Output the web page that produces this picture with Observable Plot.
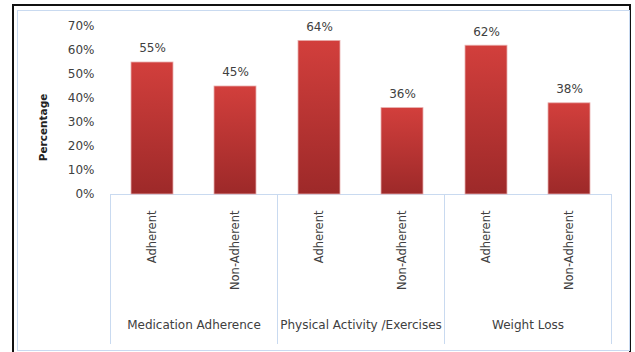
<!DOCTYPE html>
<html>
<head>
<meta charset="utf-8">
<script src="https://cdn.jsdelivr.net/npm/d3@7"></script>
<script src="https://cdn.jsdelivr.net/npm/@observablehq/plot@0.6"></script>
<style>
  html, body { margin: 0; padding: 0; background: #fff; }
  #wrap { position: relative; width: 635px; height: 352px; overflow: hidden; }
  #outer { position: absolute; left: 12px; top: 4px; width: 619px; height: 360px; border: 2px solid #111; box-sizing: border-box; }
  #inner { position: absolute; left: 17px; top: 10px; width: 613px; height: 341px; border: 1px solid #c9daf0; box-sizing: border-box; }
  #chart { position: absolute; left: 0; top: 0; }
  #chart svg { background: transparent !important; }
</style>
</head>
<body>
<div id="wrap">
  <div id="outer"></div>
  <div id="inner"></div>
  <div id="chart"></div>
</div>
<script>
const groups = ["Medication Adherence", "Physical Activity /Exercises", "Weight Loss"];
const statuses = ["Adherent", "Non-Adherent"];
const values = [0.55, 0.45, 0.64, 0.36, 0.62, 0.38];
const yTicks = [0, 0.1, 0.2, 0.3, 0.4, 0.5, 0.6, 0.7];
const yTitle = "Percentage";

const data = values.map((v, i) => ({
  group: groups[Math.floor(i / 2)],
  status: statuses[i % 2],
  value: v
}));

const font = "DejaVu Sans, sans-serif";
const textColor = "#404040";
const gridBlue = "#c9daf0";

const chart = Plot.plot({
  width: 635,
  height: 352,
  marginLeft: 110,
  marginRight: 24,
  marginTop: 26,
  marginBottom: 158,
  style: { fontFamily: font, fontSize: "12px", color: textColor, background: "transparent" },
  fx: { domain: groups, padding: 0 },
  x: { domain: statuses, paddingInner: 0.5, paddingOuter: 0.25 },
  y: { domain: [0, 0.7] },
  marks: [
    Plot.frame({ anchor: "left", stroke: gridBlue, insetTop: 168, insetBottom: -149 }),
    Plot.frame({ anchor: "right", stroke: gridBlue, insetTop: 168, insetBottom: -149 }),
    Plot.ruleY([0], { stroke: gridBlue }),
    Plot.barY(data, {
      fx: "group", x: "status", y: "value",
      fill: "url(#barGrad)", stroke: "#e8b0ae", strokeWidth: 0.8
    }),
    Plot.text(data, {
      fx: "group", x: "status", y: "value",
      text: d => Math.round(d.value * 100) + "%",
      dy: -14, fontSize: 12, fill: textColor
    }),
    Plot.axisY({
      ticks: yTicks, tickFormat: d3.format(".0%"), tickSize: 0, tickPadding: 16,
      label: null, fontSize: 12, fill: textColor
    }),
    Plot.text([yTitle], {
      fx: () => groups[0],
      text: d => d, frameAnchor: "left", textAnchor: "middle", rotate: -90,
      dx: -67, dy: 17, fontSize: 10.5, fontWeight: "bold", fill: "#222"
    }),
    Plot.axisX({
      tickRotate: -90, tickSize: 0, tickPadding: 16, label: null,
      fontSize: 11.5, fill: textColor
    }),
    Plot.axisFx({
      anchor: "bottom", tickSize: 0, tickPadding: 126, label: null,
      fontSize: 12, fill: textColor
    })
  ]
});

// gradient definition for the bars
const svgNS = "http://www.w3.org/2000/svg";
const defs = document.createElementNS(svgNS, "defs");
const grad = document.createElementNS(svgNS, "linearGradient");
grad.setAttribute("id", "barGrad");
grad.setAttribute("x1", "0"); grad.setAttribute("y1", "0");
grad.setAttribute("x2", "0"); grad.setAttribute("y2", "1");
[["0%", "#d23f3c"], ["100%", "#9d2929"]].forEach(([o, c]) => {
  const s = document.createElementNS(svgNS, "stop");
  s.setAttribute("offset", o); s.setAttribute("stop-color", c);
  grad.appendChild(s);
});
defs.appendChild(grad);
chart.insertBefore(defs, chart.firstChild);

document.getElementById("chart").appendChild(chart);
</script>
</body>
</html>
